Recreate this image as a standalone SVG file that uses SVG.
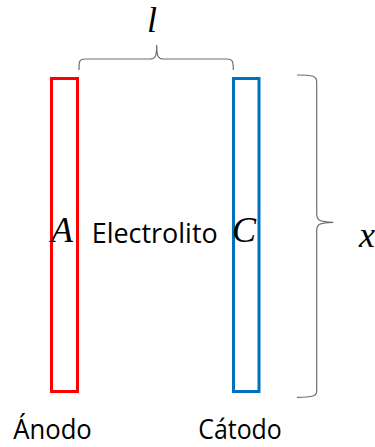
<svg xmlns="http://www.w3.org/2000/svg" width="375" height="447" viewBox="0 0 375 447">
  <style>
    .sans { font-family: "Open Sans", "Noto Sans", "Liberation Sans", sans-serif; font-size: 26.5px; fill: #000; }
    .math { font-family: "Liberation Serif", "DejaVu Serif", serif; font-style: italic; font-size: 36px; fill: #000; }
    .brace { fill: none; stroke: #6e6e6e; stroke-width: 1.2; }
    .electrode { fill: none; stroke-width: 3; }
  </style>
  <rect width="375" height="447" fill="#fff"/>
  <g id="connectors">
    <path class="brace" d="M79,70 C79,62 79,59 85,59 H150 C155,59 156.7,57 156.7,45 C156.7,57 158.4,59 163.4,59 H227 C233,59 233.3,62 233.3,70"/>
    <path class="brace" d="M297,75 C313,75 316.7,76 316.7,82 V214 C316.7,220 319,222 333.3,222.3 C319,222.6 316.7,224.6 316.7,230.6 V391 C316.7,396 313,397.3 297,397.3"/>
  </g>
  <g id="anode">
    <rect class="electrode" x="51.5" y="78.5" width="26" height="313" stroke="#FF0000"/>
    <text class="math" x="51" y="241.7">A</text>
    <text class="sans" x="13.3" y="439.3" textLength="78.5" lengthAdjust="spacingAndGlyphs">Ánodo</text>
  </g>
  <g id="cathode">
    <rect class="electrode" x="233.5" y="78.5" width="25.5" height="313" stroke="#0070C0"/>
    <text class="math" x="232" y="241.7">C</text>
    <text class="sans" x="198.3" y="439.3" textLength="83.5" lengthAdjust="spacingAndGlyphs">Cátodo</text>
  </g>
  <g id="electrolyte">
    <text class="sans" x="91.7" y="243.3" textLength="126" lengthAdjust="spacingAndGlyphs">Electrolito</text>
  </g>
  <g id="length-label">
    <text class="math" x="147" y="31.5">l</text>
  </g>
  <g id="height-label">
    <text class="math" x="359" y="246.7">x</text>
  </g>
</svg>
